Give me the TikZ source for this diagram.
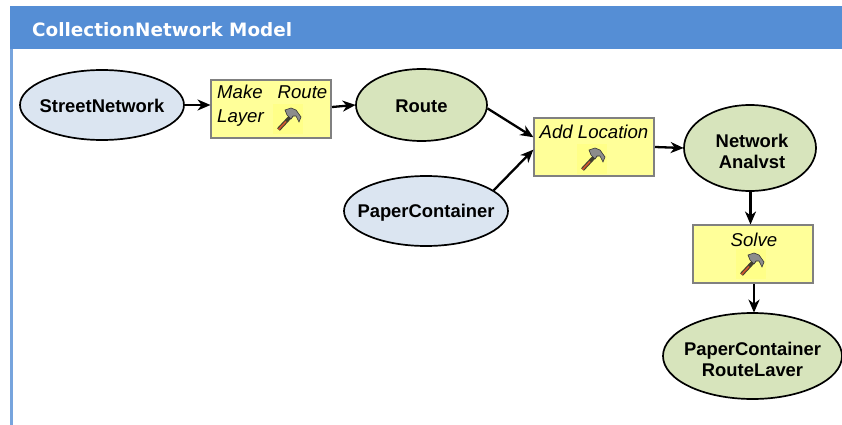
\documentclass[tikz,border=0pt]{standalone}
\usepackage{fontspec}
\setmainfont{Liberation Sans}
\newfontfamily\titlefont{DejaVu Sans}
\usetikzlibrary{shapes.geometric,arrows.meta}
\definecolor{headblue}{HTML}{558ED5}
\definecolor{inputblue}{HTML}{DBE5F1}
\definecolor{outputgreen}{HTML}{D7E4BC}
\definecolor{toolyellow}{HTML}{FFFF99}
\definecolor{iconyellow}{HTML}{FFFF88}
\tikzset{
    inputdata/.style={ellipse, draw=black, line width=1.7pt, fill=inputblue, inner sep=0pt, inner xsep=-13pt, align=center, font=\fontsize{18.4}{21}\selectfont\bfseries},
    outputdata/.style={inputdata, fill=outputgreen},
    toolbox/.style={rectangle, draw=black!50, line width=2pt, fill=toolyellow, minimum width=120pt, minimum height=58pt},
    toollabel/.style={inner sep=0pt, font=\fontsize{18.6}{20}\selectfont\itshape},
    flow/.style={-{Stealth[length=13pt,width=11pt,inset=4pt]}, line width=2.3pt, shorten >=-0.5pt},
    hammer/.pic={
        \fill[iconyellow] (-15,-15) rectangle (15,15);
        \draw[line width=3.8pt, draw=black!70!olive] (-9.5,10.5) -- (4,-4);
        \draw[line width=1.6pt, draw=brown!70!red] (-9.5,10.5) -- (-2,2.5);
        \fill[black!45, draw=black!80, line width=0.6pt] (-3,-9) -- (3,-11) -- (8,-9) -- (13,-2) -- (11,3) -- (8,-3) -- (5,-3) -- (3,0) -- (-1,-4) -- cycle;
    }
}
\begin{document}
\begin{tikzpicture}[x=1pt,y=-1pt]
    \useasboundingbox (0,0) rectangle (842,425);

    \fill[headblue] (10,6) rectangle (842,49);
    \fill[headblue!80] (10,49) rectangle (12.5,425);
    \node[anchor=west, inner sep=0pt, text=white, font=\titlefont\fontsize{18.4}{20}\selectfont\bfseries] (title) at (32,29.5) {CollectionNetwork Model};

    \node[inputdata, minimum width=164pt, minimum height=70pt, text height=20pt, text depth=4pt] (street) at (102,105) {StreetNetwork};
    \node[outputdata, minimum width=131pt, minimum height=72pt, text height=20pt, text depth=4pt] (route) at (421.5,105) {Route};
    \node[inputdata, minimum width=164pt, minimum height=70pt, text height=16pt, text depth=4pt] (paper) at (426,211) {PaperContainer};
    \node[outputdata, minimum width=132pt, minimum height=86pt] (analyst) at (750,148) {\rule{0pt}{21pt}\hspace*{4pt}Network\\\hspace*{4pt}Analvst};
    \node[outputdata, minimum width=179pt, minimum height=86pt] (layer) at (752.5,356) {\rule{0pt}{21pt}PaperContainer\\RouteLaver};

    \node[toolbox] (makeroute) at (271,109) {};
    \node[toolbox] (addloc) at (594,147) {};
    \node[toolbox] (solve) at (753,254) {};

    \pic at (288,119) {hammer};
    \pic at (592,159) {hammer};
    \pic at (751,264) {hammer};

    \node[toollabel, anchor=base west] (makelbl) at (217,99) {Make};
    \node[toollabel, anchor=base east] (routelbl) at (327.5,99) {Route};
    \node[toollabel, anchor=base west] (layerlbl) at (217,122.5) {Layer};
    \node[toollabel, anchor=base] (addlbl) at (594,138) {Add Location};
    \node[toollabel, anchor=base] (solvelbl) at (754,246) {Solve};

    \draw[flow] (street.east) -- ([yshift=4pt]makeroute.west);
    \draw[flow] ([yshift=2pt]makeroute.east) -- (route.west);
    \draw[flow] (route.-3) -- ([yshift=10pt]addloc.west);
    \draw[flow] (paper.17) -- ([yshift=-3pt]addloc.west);
    \draw[flow] (addloc.east) -- (analyst.west);
    \draw[flow] ([xshift=0.5pt]analyst.south) -- ([xshift=-2.5pt]solve.north);
    \draw[flow] ([xshift=1pt]solve.south) -- ([xshift=1.5pt]layer.north);

\end{tikzpicture}
\end{document}
